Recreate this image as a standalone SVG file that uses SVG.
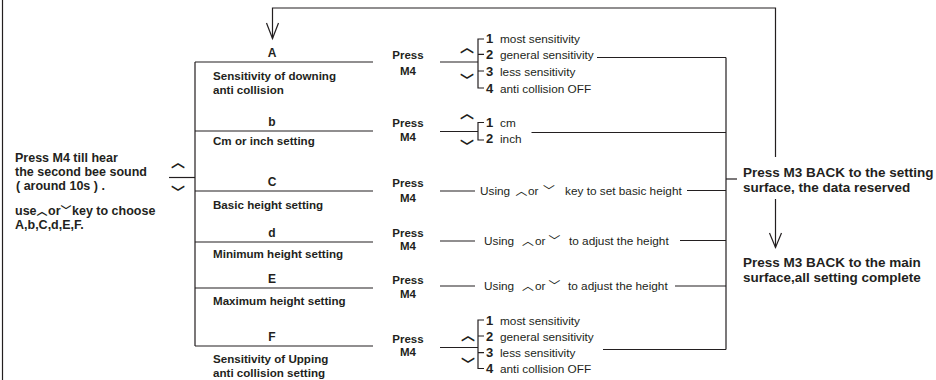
<svg xmlns="http://www.w3.org/2000/svg" width="936" height="380" viewBox="0 0 936 380">
<style>
.ln{stroke:#231f20;stroke-width:1.2;fill:none}
text{fill:#231f20;font-family:"Liberation Sans","Noto Sans CJK SC",sans-serif}
.lt{font-size:12.5px;font-weight:bold}
.sec{font-size:12px;font-weight:bold;text-anchor:middle}
.ds{font-size:11.6px;font-weight:bold}
.pm{font-size:11.5px;font-weight:bold;text-anchor:middle}
.num{font-size:13px;font-weight:bold}
.op{font-size:11.8px}
.rt{font-size:13.5px;font-weight:bold}
.sym{font-family:"Noto Sans CJK SC",sans-serif;font-size:14px;font-weight:bold;text-anchor:middle}
.isym{font-family:"Noto Sans CJK SC",sans-serif}
</style>
<g id="connectors">
<path class="ln" d="M2.5 0 V380"/>
<path class="ln" d="M169 177.5 H195"/>
<path class="ln" d="M775.5 157 V8 H272.5 V38.5"/>
<path class="ln" d="M266.5 23 L272.5 38.5 L278.5 23"/>
<path class="ln" d="M726 57.5 V349.5"/>
<path class="ln" d="M597 57.5 H726"/>
<path class="ln" d="M531.5 132.5 H726"/>
<path class="ln" d="M687 190.5 H726"/>
<path class="ln" d="M680 240.5 H726"/>
<path class="ln" d="M675 286 H726"/>
<path class="ln" d="M603 349.5 H726"/>
<path class="ln" d="M726 179 H737"/>
<path class="ln" d="M775.5 199 V247.5"/>
<path class="ln" d="M769.5 233 L775.5 247.5 L781.5 233"/>
<path class="ln" d="M440 62 H478"/>
<path class="ln" d="M440 131.5 H478"/>
<path class="ln" d="M440 191 H475"/>
<path class="ln" d="M440 241 H475"/>
<path class="ln" d="M440 286 H475"/>
<path class="ln" d="M440 347.5 H478"/>
<path class="ln" d="M484 39 H478 V88 H484 M478 54.3 H484 M478 71 H484"/>
<path class="ln" d="M484 122.5 H478 V140 H484"/>
<path class="ln" d="M484 320 H478 V368.5 H484 M478 336 H484 M478 352.7 H484"/>
</g>
<g id="start">
<text class="lt" x="15" y="162">Press M4 till hear</text>
<text class="lt" x="15" y="176">the second bee sound</text>
<text class="lt" x="16" y="189.5">( around 10s ) .</text>
<text class="lt" x="15" y="215">use<tspan class="isym" font-size="11" x="42" text-anchor="middle">︿</tspan><tspan x="48">or</tspan><tspan class="isym" font-size="11" x="66" text-anchor="middle">﹀</tspan><tspan x="72">key to choose</tspan></text>
<text class="lt" x="15" y="228.5">A,b,C,d,E,F.</text>
<text class="sym" x="178" y="167">︿</text>
<text class="sym" x="178" y="196.5">﹀</text>
</g>
<g id="menu">
<path class="ln" d="M195 62 V346 M195 62 H373 M195 131 H373 M195 191 H373 M195 242 H373 M195 288 H373 M195 346 H373"/>
</g>
<g id="sec-A">
<text class="sec" x="272" y="57">A</text>
<text class="ds" x="213" y="79.5">Sensitivity of downing</text>
<text class="ds" x="213" y="93.5">anti collision</text>
<text class="pm" x="408" y="58.5">Press</text>
<text class="pm" x="408" y="75">M4</text>
<text class="sym" x="467" y="52">︿</text>
<text class="sym" x="467" y="84.5">﹀</text>
<text class="num" x="486" y="43">1</text><text class="op" x="500" y="43">most sensitivity</text>
<text class="num" x="486" y="59">2</text><text class="op" x="500" y="59">general sensitivity</text>
<text class="num" x="486" y="75.5">3</text><text class="op" x="500" y="75.5">less sensitivity</text>
<text class="num" x="486" y="92.5">4</text><text class="op" x="500" y="92.5">anti collision OFF</text>
</g>
<g id="sec-b">
<text class="sec" x="272" y="126">b</text>
<text class="ds" x="213" y="145">Cm or inch setting</text>
<text class="pm" x="408" y="127">Press</text>
<text class="pm" x="408" y="141">M4</text>
<text class="sym" x="467" y="117.5">︿</text>
<text class="sym" x="467" y="151">﹀</text>
<text class="num" x="486" y="126.5">1</text><text class="op" x="500" y="126.5">cm</text>
<text class="num" x="486" y="143">2</text><text class="op" x="500" y="143">inch</text>
</g>
<g id="sec-C">
<text class="sec" x="272" y="186">C</text>
<text class="ds" x="213" y="209">Basic height setting</text>
<text class="pm" x="408" y="187">Press</text>
<text class="pm" x="408" y="201.5">M4</text>
<text class="op" x="480" y="195">Using<tspan class="isym" x="521.5" text-anchor="middle">︿</tspan><tspan x="528">or</tspan><tspan class="isym" x="549" text-anchor="middle">﹀</tspan><tspan x="565">key to set basic height</tspan></text>
</g>
<g id="sec-d">
<text class="sec" x="272" y="237">d</text>
<text class="ds" x="213" y="258">Minimum height  setting</text>
<text class="pm" x="408" y="237">Press</text>
<text class="pm" x="408" y="249.5">M4</text>
<text class="op" x="484" y="245">Using<tspan class="isym" x="528" text-anchor="middle">︿</tspan><tspan x="535">or</tspan><tspan class="isym" x="554.5" text-anchor="middle">﹀</tspan><tspan x="569">to adjust the height</tspan></text>
</g>
<g id="sec-E">
<text class="sec" x="272" y="283">E</text>
<text class="ds" x="213" y="305">Maximum height  setting</text>
<text class="pm" x="408" y="283.5">Press</text>
<text class="pm" x="408" y="297.5">M4</text>
<text class="op" x="484" y="290">Using<tspan class="isym" x="528" text-anchor="middle">︿</tspan><tspan x="535">or</tspan><tspan class="isym" x="554.5" text-anchor="middle">﹀</tspan><tspan x="568">to adjust the height</tspan></text>
</g>
<g id="sec-F">
<text class="sec" x="272" y="341">F</text>
<text class="ds" x="213" y="362.5">Sensitivity of Upping</text>
<text class="ds" x="213" y="376.5">anti collision setting</text>
<text class="pm" x="408" y="342.5">Press</text>
<text class="pm" x="408" y="356">M4</text>
<text class="sym" x="468" y="339.5">︿</text>
<text class="sym" x="468" y="369">﹀</text>
<text class="num" x="486" y="324.5">1</text><text class="op" x="500" y="324.5">most sensitivity</text>
<text class="num" x="486" y="340.5">2</text><text class="op" x="500" y="340.5">general sensitivity</text>
<text class="num" x="486" y="357">3</text><text class="op" x="500" y="357">less sensitivity</text>
<text class="num" x="486" y="373">4</text><text class="op" x="500" y="373">anti collision OFF</text>
</g>
<g id="back-setting">
<text class="rt" x="743" y="176.5">Press M3 BACK to the setting</text>
<text class="rt" x="743" y="192">surface, the data reserved</text>
</g>
<g id="back-main">
<text class="rt" x="743" y="266.5">Press M3 BACK to the main</text>
<text class="rt" x="743" y="282">surface,all setting complete</text>
</g>
</svg>
